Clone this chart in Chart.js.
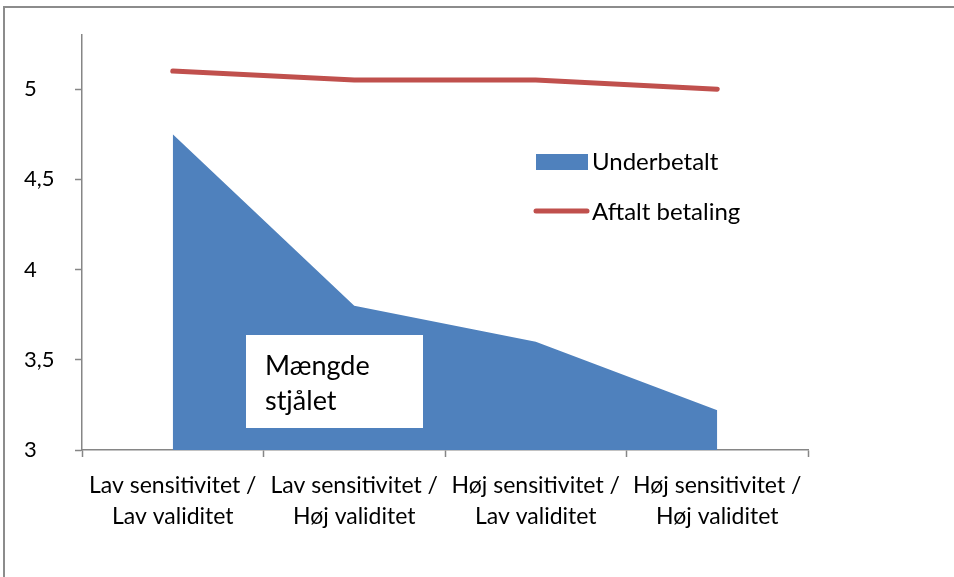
<!DOCTYPE html>
<html>
<head>
<meta charset="utf-8">
<script src="https://cdn.jsdelivr.net/npm/chart.js@4"></script>
<style>
  html, body { margin: 0; padding: 0; background: #fff; overflow: hidden; }
  #frame { position: absolute; left: 3px; top: 6px; width: 1000px; height: 600px;
           border-left: 2px solid #8c8c8c; border-top: 2px solid #8c8c8c; }
  canvas { position: absolute; left: 0; top: 0; }
</style>
</head>
<body>
<div id="frame"></div>
<canvas id="chart" width="954" height="577"></canvas>
<script>
const categories = [
    ['Lav sensitivitet /', 'Lav validitet'],
    ['Lav sensitivitet /', 'Høj validitet'],
    ['Høj sensitivitet /', 'Lav validitet'],
    ['Høj sensitivitet /', 'Høj validitet']
];
const underbetalt = [4.75, 3.8, 3.6, 3.22];
const aftaltBetaling = [5.1, 5.05, 5.05, 5.0];
const yTicks = [3, 3.5, 4, 4.5, 5];

const FONT = 'Lato, "Open Sans", sans-serif';
const AXIS = '#868686';

// legend and text box are drawn by hand, like the Excel overlay
const overlay = {
    id: 'overlay',
    afterDraw(chart) {
        const ctx = chart.ctx;
        const ds = chart.data.datasets;
        ctx.save();
        ctx.font = '24px ' + FONT;
        ctx.textBaseline = 'middle';

        ctx.fillStyle = ds[1].backgroundColor;
        ctx.fillRect(536, 154, 52, 16);
        ctx.fillStyle = '#000';
        ctx.fillText(ds[1].label, 592, 162);

        ctx.strokeStyle = ds[0].borderColor;
        ctx.lineWidth = 5;
        ctx.lineCap = 'round';
        ctx.beginPath();
        ctx.moveTo(536, 211);
        ctx.lineTo(587, 211);
        ctx.stroke();
        ctx.fillText(ds[0].label, 592, 212);

        ctx.fillStyle = '#fff';
        ctx.fillRect(246, 335, 177, 93);
        ctx.fillStyle = '#000';
        ctx.font = '27px ' + FONT;
        ctx.fillText('Mængde', 265, 366);
        ctx.fillText('stjålet', 265, 401);
        ctx.restore();
    }
};

new Chart(document.getElementById('chart'), {
    type: 'line',
    data: {
        labels: categories,
        datasets: [
            {
                label: 'Aftalt betaling',
                data: aftaltBetaling,
                borderColor: '#C0504D',
                borderWidth: 5,
                borderCapStyle: 'round',
                pointRadius: 0,
                tension: 0,
                fill: false
            },
            {
                label: 'Underbetalt',
                data: underbetalt,
                backgroundColor: '#4F81BD',
                borderColor: '#4F81BD',
                borderWidth: 0,
                pointRadius: 0,
                tension: 0,
                fill: 'start'
            }
        ]
    },
    options: {
        responsive: false,
        animation: false,
        layout: { padding: { left: 24, right: 146, top: 35, bottom: 0 } },
        plugins: {
            legend: { display: false },
            tooltip: { enabled: false }
        },
        scales: {
            x: {
                offset: true,
                grid: { offset: true, drawOnChartArea: false, color: AXIS, tickLength: 7, tickWidth: 1.5 },
                border: { color: AXIS, width: 1.5 },
                ticks: { color: '#000', font: { family: FONT, size: 23, lineHeight: 1.35 }, maxRotation: 0, autoSkip: false, padding: 13 },
                afterFit(scale) { scale.height = 127; }
            },
            y: {
                min: 3,
                max: 5.3,
                grid: { drawOnChartArea: false, color: AXIS, tickLength: 7, tickWidth: 1.5 },
                border: { color: AXIS, width: 1.5 },
                afterBuildTicks(scale) { scale.ticks = yTicks.map(v => ({ value: v })); },
                ticks: {
                    color: '#000',
                    crossAlign: 'far',
                    font: { family: FONT, size: 22 },
                    callback: v => String(v).replace('.', ',')
                },
                afterFit(scale) { scale.width = 58; }
            }
        }
    },
    plugins: [overlay]
});
</script>
</body>
</html>
